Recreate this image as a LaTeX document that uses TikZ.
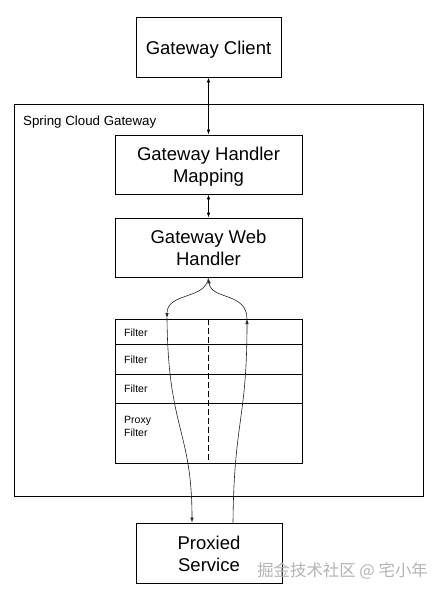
\documentclass[tikz,border=0pt]{standalone}
\usepackage{fontspec}
\setmainfont{Liberation Sans}
\newfontfamily\cjk{Noto Sans CJK SC}
\usetikzlibrary{arrows.meta,positioning}
\definecolor{linegray}{HTML}{222222}
\definecolor{markgray}{HTML}{B4B4B4}
\newcommand\boxtext[1]{\raisebox{-3pt}[\height][\depth]{\begin{tabular}{@{}c@{}}#1\end{tabular}}}
\tikzset{box/.style={draw=black,line width=0.8pt,minimum width=187pt,minimum height=59pt,
  align=center,inner sep=0pt,font=\fontsize{18.5}{22}\selectfont},
  row/.style={draw=black,line width=0.8pt,minimum width=187pt,inner sep=0pt,outer sep=0pt},
  flabel/.style={inner sep=0pt,align=left,font=\fontsize{10.5}{13}\selectfont},
  flow/.style={-{Latex[length=5pt,width=3.5pt]},line width=0.6pt,draw=linegray},
  both/.style={{Latex[length=5pt,width=3.5pt]}-{Latex[length=5pt,width=3.5pt]},line width=0.8pt}}
\begin{document}
\begin{tikzpicture}[x=1pt,y=1pt]
\useasboundingbox[fill=white] (0,0) rectangle (443,-595);
\node[draw=black,line width=0.8pt,minimum width=409pt,minimum height=392pt] (scg) at (218.5,-300) {};
\node[flabel,anchor=west,font=\fontsize{13.3}{16}\selectfont] (scglabel) at (23,-122) {Spring Cloud Gateway};
\node[box,minimum width=145pt,minimum height=60pt] (client) at (208.5,-47) {\boxtext{Gateway Client}};
\node[box] (mapping) at (208.5,-164.5) {\boxtext{Gateway Handler\\Mapping}};
\node[box] (web) at (208.5,-247.5) {\boxtext{Gateway Web\\Handler}};
% filter chain
\node[row,minimum height=25pt] (f1) at (208.5,-331.5) {};
\node[row,minimum height=30pt,below=0pt of f1] (f2) {};
\node[row,minimum height=29pt,below=0pt of f2] (f3) {};
\node[row,minimum height=60pt,below=0pt of f3] (f4) {};
\node[flabel,anchor=west] (l1) at ([shift={(9pt,-1pt)}]f1.west) {Filter};
\node[flabel,anchor=west] (l2) at ([shift={(9pt,-1pt)}]f2.west) {Filter};
\node[flabel,anchor=west] (l3) at ([xshift=9pt]f3.west) {Filter};
\node[flabel,anchor=north west] (l4) at ([shift={(9pt,-13pt)}]f4.north west) {Proxy\\Filter};
\draw[dashed,dash pattern=on 6pt off 3pt,line width=0.8pt] (f1.north) -- (f4.south);
\node[box,minimum width=146pt,minimum height=60pt] (proxy) at (209,-553) {\boxtext{Proxied\\Service}};
\coordinate (reqin) at (167,-318);
\coordinate (resout) at (247,-319);
\draw[both] (client) -- (mapping);
\draw[both] (mapping) -- (web);
\draw[flow] (web.south) .. controls (206,-300) and (167,-292) .. (reqin);
\draw[flow] (resout) .. controls (247,-292) and (211,-300) .. ([yshift=-1pt]web.south);
\draw[flow] (reqin) .. controls (168,-430) and (192,-430) .. ([xshift=-17pt]proxy.north);
\draw[flow] ([xshift=24pt]proxy.north) .. controls (234,-420) and (247,-420) .. (resout);
\node[anchor=east,text=markgray,font=\cjk\fontsize{16.4}{20}\selectfont,inner sep=0pt] (mark) at (428,-571) {掘金技术社区 @ 宅小年};
\end{tikzpicture}
\end{document}
